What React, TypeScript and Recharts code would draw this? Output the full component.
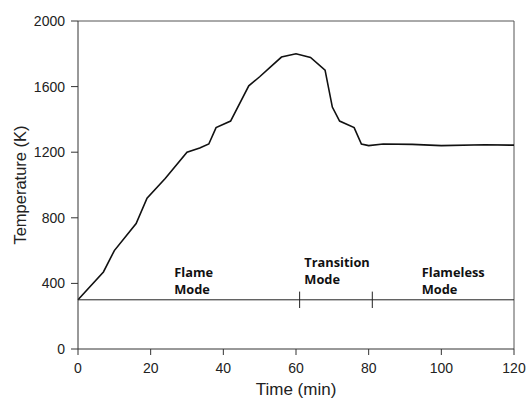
import {
    LineChart, Line, XAxis, YAxis, ReferenceLine, ReferenceDot, Label
} from 'recharts';

const times = [0, 7, 10, 16, 19, 24, 30, 33.5, 36, 38, 42, 47, 50, 53, 56, 60, 64, 68, 70, 72, 76, 78, 80, 84, 92, 100, 112, 120];
const temps = [300, 470, 600, 765, 920, 1040, 1200, 1225, 1250, 1350, 1390, 1605, 1660, 1720, 1780, 1800, 1778, 1700, 1475, 1390, 1350, 1250, 1240, 1250, 1248, 1240, 1245, 1243];

const xTicks = [0, 20, 40, 60, 80, 100, 120];
const yTicks = [0, 400, 800, 1200, 1600, 2000];

const baseTemp = 300;
const modeBounds = [61, 81];

const modeLabels = [
    { x: 26.5, y: 440, lines: ['Flame', 'Mode'] },
    { x: 62.3, y: 502, lines: ['Transition', 'Mode'] },
    { x: 94.6, y: 440, lines: ['Flameless', 'Mode'] },
];

const data = times.map((t, i) => ({ time: t, temp: temps[i] }));

const axisColor = '#333';
const font = 'Liberation Sans, Arial, sans-serif';

const ModeLabel = ({ viewBox, lines }: any) => {
    const x = viewBox.cx ?? viewBox.x;
    const y = viewBox.cy ?? viewBox.y;
    return (
        <text x={x} y={y} fontFamily="Open Sans, sans-serif" fontWeight={700} fontSize={12.8} fill="#111">
            {lines.map((l: string, i: number) => (
                <tspan key={i} x={x} dy={i === 0 ? 0 : 17.5}>{l}</tspan>
            ))}
        </text>
    );
};

export default function App() {
    return (
        <div style={{ position: 'absolute', left: 0, top: 0, background: '#fff' }}>
            <LineChart
                width={527}
                height={401}
                data={data}
                margin={{ top: 21, right: 13, bottom: 0, left: 0 }}
            >
                <XAxis
                    dataKey="time"
                    type="number"
                    domain={[0, 120]}
                    ticks={xTicks}
                    height={52}
                    stroke={axisColor}
                    tickSize={6}
                    tickMargin={8}
                    tick={{ fill: '#222', fontSize: 14, fontFamily: font }}
                >
                    <Label value="Time (min)" position="insideBottom" offset={6} fill="#222" fontSize={17} fontFamily={font} />
                </XAxis>
                <YAxis
                    type="number"
                    domain={[0, 2000]}
                    ticks={yTicks}
                    width={78}
                    stroke={axisColor}
                    tickSize={7}
                    tickMargin={6}
                    tick={{ fill: '#222', fontSize: 14, fontFamily: font }}
                >
                    <Label value="Temperature (K)" angle={-90} position="insideLeft" offset={20} style={{ textAnchor: 'middle' }} fill="#222" fontSize={16.5} fontFamily={font} />
                </YAxis>
                <ReferenceLine y={2000} stroke="#555" strokeWidth={1} />
                <ReferenceLine x={120} stroke="#555" strokeWidth={1} />
                <ReferenceLine y={baseTemp} stroke="#222" strokeWidth={1} />
                {modeBounds.map(b => (
                    <ReferenceLine
                        key={b}
                        segment={[{ x: b, y: baseTemp - 50 }, { x: b, y: baseTemp + 50 }]}
                        stroke="#222"
                        strokeWidth={1}
                    />
                ))}
                {modeLabels.map((m, i) => (
                    <ReferenceDot
                        key={i}
                        x={m.x}
                        y={m.y}
                        r={0}
                        fill="none"
                        stroke="none"
                        label={(props: any) => <ModeLabel {...props} lines={m.lines} />}
                    />
                ))}
                <Line
                    type="linear"
                    dataKey="temp"
                    stroke="#111"
                    strokeWidth={1.6}
                    dot={false}
                    isAnimationActive={false}
                />
            </LineChart>
        </div>
    );
}
